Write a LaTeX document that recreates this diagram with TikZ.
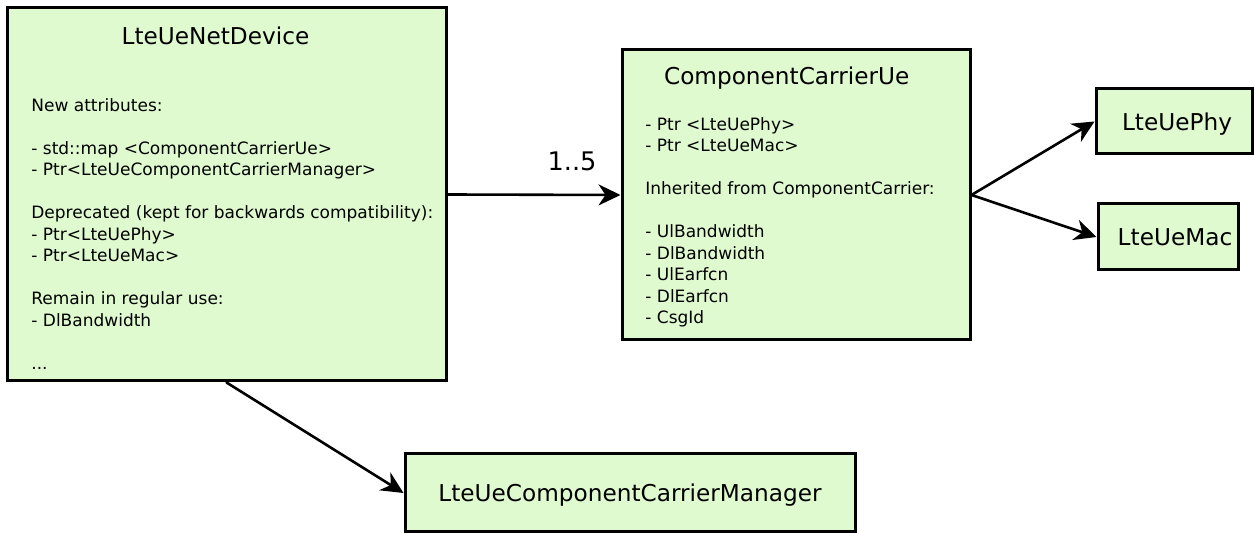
\documentclass[tikz,border=0pt]{standalone}
\usepackage{fontspec}
\setmainfont{DejaVu Sans}
\usetikzlibrary{arrows.meta}
\definecolor{boxgreen}{RGB}{224,250,208}

\begin{document}
\begin{tikzpicture}[line cap=round,line join=round,x=0.5pt,y=-0.5pt,
		box/.style={draw=black,fill=boxgreen,line width=1.5pt,line join=miter,inner sep=0pt,text depth=0pt,font=\fontsize{11.6pt}{14pt}\selectfont},
		title/.style={anchor=base,inner sep=0pt,font=\fontsize{11.6pt}{14pt}\selectfont},
		attr/.style={anchor=north west,inner sep=0pt,align=left,font=\fontsize{8.5pt}{10.75pt}\selectfont},
		link/.style={line width=1.3pt,-{Stealth[length=11pt,width=10.5pt,inset=3.5pt]}}]
		\useasboundingbox (0,0) rectangle (1254,533);
		% classes
		\node[box,minimum width=219.5pt,minimum height=186.5pt] (netdev) at (226.5,194.5) {};
		\node[box,minimum width=174pt,minimum height=145pt] (ccue) at (796,195) {};
		\node[box,minimum width=78pt,minimum height=32.5pt] (phy) at (1174,121.5) {\hspace{3pt}LteUePhy};
		\node[box,minimum width=70pt,minimum height=33pt] (mac) at (1168,237) {\hspace{7pt}LteUeMac};
		\node[box,minimum width=225pt,minimum height=39pt] (ccm) at (630,493) {LteUeComponentCarrierManager};
		% titles and attributes
		\node[title] (netdevtitle) at (215.5,45) {LteUeNetDevice};
		\node[attr] (netdevattr) at (31,98) {New attributes:\\[10.75pt]
			- std::map <ComponentCarrierUe>\\
			- Ptr<LteUeComponentCarrierManager>\\[10.75pt]
			Deprecated (kept for backwards compatibility):\\
			- Ptr<LteUePhy>\\
			- Ptr<LteUeMac>\\[10.75pt]
			Remain in regular use:\\
			- DlBandwidth\\[10.75pt]
			...};
		\node[title] (ccuetitle) at (786.7,85) {ComponentCarrierUe};
		\node[attr] (ccueattr) at (645,117) {- Ptr <LteUePhy>\\
			- Ptr <LteUeMac>\\[10.75pt]
			Inherited from ComponentCarrier:\\[10.75pt]
			- UlBandwidth\\
			- DlBandwidth\\
			- UlEarfcn\\
			- DlEarfcn\\
			- CsgId};
		% links
		\draw[link] (netdev.east) -- node[pos=0.72,yshift=17pt,font=\fontsize{12.8pt}{15pt}\selectfont] (mult) {1..5} (ccue.west);
		\draw[link] (ccue.east) -- (phy.west);
		\draw[link] (ccue.east) -- (mac.west);
		\draw[link] (netdev.south) -- (ccm.west);
	\end{tikzpicture}
\end{document}
